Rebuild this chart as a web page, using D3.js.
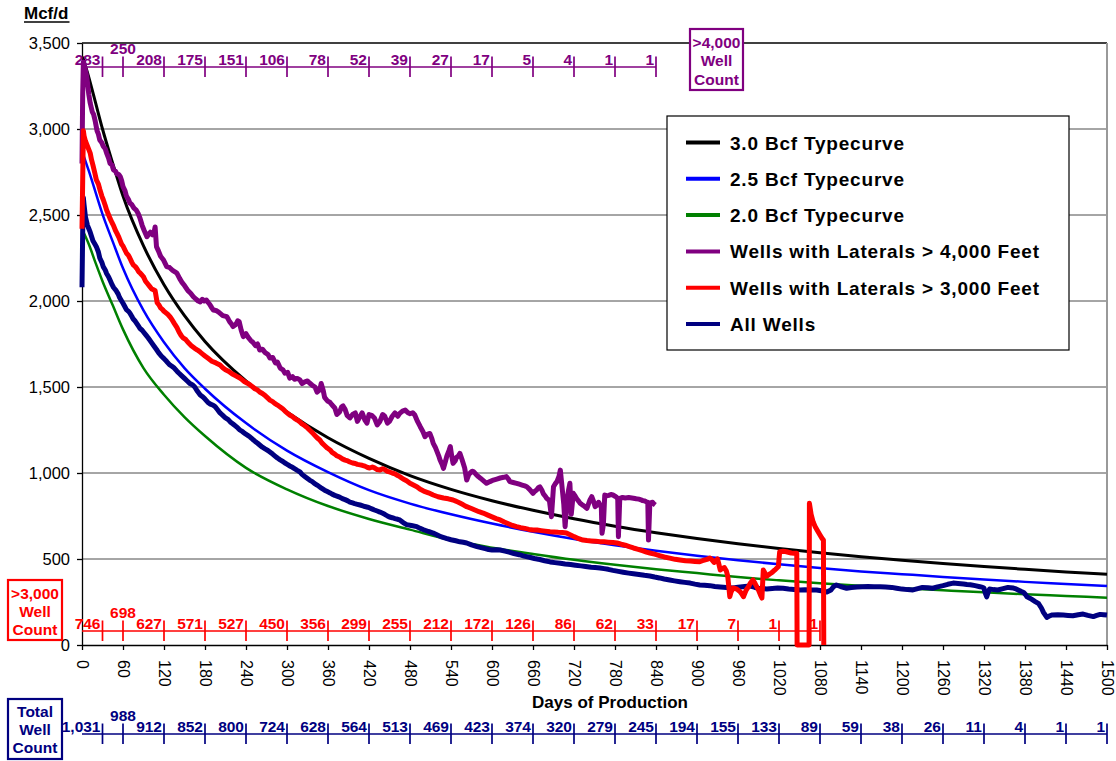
<!DOCTYPE html>
<html><head><meta charset="utf-8">
<script src="https://cdn.jsdelivr.net/npm/d3@7"></script>
<style>
body{margin:0;background:#fff;}
svg text{font-family:"Liberation Sans",Arial,sans-serif;}
</style></head><body>
<svg id="c" width="1116" height="761"></svg>
<script>
// ---------- DATA ----------
const xTickValues = [0,60,120,180,240,300,360,420,480,540,600,660,720,780,840,900,960,1020,1080,1140,1200,1260,1320,1380,1440,1500];
const yTickValues = [0,500,1000,1500,2000,2500,3000,3500];
const gridValues = [500,1000,1500,2000,2500,3000];

const typeDays = [1,10,20,30,45,60,90,120,150,180,240,300,360,420,480,540,600,660,720,780,840,900,960,1020,1080,1140,1200,1260,1320,1380,1440,1500];
const tc30 = [3420,3300,3150,3000,2800,2610,2320,2095,1915,1765,1535,1355,1205,1085,985,905,839,783,734,691,653,619,589,561,536,513,493,474,456,440,425,411];
const tc25 = [2860,2756,2630,2505,2345,2190,1945,1760,1610,1490,1290,1130,1005,900,822,760,706,658,616,580,548,519,493,469,448,428,412,396,381,367,355,343];
const tc20 = [2410,2330,2220,2115,1975,1835,1610,1455,1325,1215,1030,905,808,733,671,610,566,529,495,466,441,418,395,376,359,344,330,318,306,295,285,275];

const wells4000 = [[0,2800],[1,3200],[2,3390],[4,3360],[7,3304],[10,3200],[12,3151],[15,3100],[17,3085],[19,3052],[22,2990],[24,2970],[26,2936],[29,2920],[31,2900],[34,2885],[36,2860],[39,2830],[41,2800],[44,2790],[46,2762],[49,2755],[51,2740],[54,2735],[56,2723],[58,2700],[60,2665],[63,2640],[65,2610],[68,2590],[70,2570],[73,2560],[76,2540],[79,2530],[82,2510],[85,2480],[88,2440],[91,2410],[95,2374],[98,2390],[100,2400],[103,2385],[105,2390],[107,2430],[109,2316],[112,2290],[115,2260],[119,2240],[124,2200],[128,2195],[132,2180],[136,2170],[139,2161],[143,2130],[146,2110],[150,2090],[155,2060],[159,2045],[163,2025],[167,2010],[170,2000],[173,1995],[176,2010],[179,2000],[182,2006],[185,1990],[187,1980],[190,1960],[192,1948],[196,1945],[200,1935],[203,1925],[206,1915],[209,1912],[212,1909],[214,1895],[216,1880],[219,1865],[221,1851],[224,1860],[226,1870],[228,1885],[230,1880],[233,1830],[236,1793],[240,1810],[243,1790],[247,1770],[250,1760],[254,1740],[257,1750],[260,1715],[264,1720],[268,1700],[272,1690],[275,1669],[279,1672],[283,1640],[286,1645],[290,1610],[294,1600],[297,1580],[301,1585],[304,1552],[308,1560],[311,1545],[315,1550],[319,1541],[322,1520],[326,1530],[330,1535],[333,1523],[337,1510],[341,1500],[344,1470],[348,1483],[350,1520],[353,1480],[355,1440],[359,1420],[363,1410],[366,1395],[370,1378],[373,1340],[377,1355],[380,1385],[382,1390],[385,1370],[388,1335],[392,1320],[396,1340],[400,1349],[403,1300],[407,1330],[410,1350],[414,1308],[417,1290],[420,1340],[424,1335],[428,1320],[432,1280],[436,1300],[440,1340],[443,1330],[447,1290],[450,1300],[454,1330],[458,1349],[462,1330],[465,1347],[469,1360],[473,1366],[477,1350],[480,1345],[484,1350],[487,1337],[491,1300],[495,1269],[499,1240],[502,1211],[505,1225],[509,1230],[512,1200],[514,1172],[517,1150],[519,1130],[522,1100],[524,1076],[527,1050],[529,1027],[532,1070],[534,1100],[537,1130],[539,1153],[541,1100],[543,1056],[546,1070],[548,1090],[551,1100],[553,1114],[556,1080],[560,1029],[563,959],[566,990],[568,1000],[571,1010],[573,1008],[577,990],[580,979],[583,970],[586,960],[589,950],[592,940],[597,950],[602,959],[607,965],[612,971],[617,975],[621,979],[624,965],[626,950],[631,945],[636,940],[640,935],[644,930],[648,925],[651,920],[655,905],[660,882],[663,895],[665,900],[668,915],[670,920],[673,900],[675,880],[678,865],[680,853],[684,840],[687,746],[690,920],[693,940],[695,950],[698,980],[700,1017],[703,900],[705,820],[707,688],[710,850],[712,900],[714,940],[716,760],[719,882],[721,870],[724,850],[727,835],[729,824],[732,815],[734,810],[737,800],[739,795],[743,840],[746,862],[749,830],[751,804],[754,815],[756,830],[758,815],[760,800],[761,649],[763,700],[765,872],[768,868],[771,870],[774,875],[777,872],[780,865],[782,860],[784,850],[785,630],[787,853],[791,858],[795,855],[800,857],[807,853],[811,850],[815,848],[818,844],[820,840],[823,838],[826,833],[828,830],[829,610],[831,824],[833,828],[835,830],[837,820],[839,814]];

const wells3000 = [[0,2420],[1,2700],[2,2990],[3,2960],[5,2930],[8,2900],[10,2880],[12,2860],[14,2820],[16,2790],[19,2740],[21,2704],[24,2680],[26,2650],[29,2610],[31,2590],[34,2555],[36,2529],[39,2500],[41,2480],[44,2455],[46,2440],[49,2410],[51,2395],[54,2370],[56,2350],[58,2330],[60,2320],[63,2295],[65,2279],[68,2265],[70,2250],[73,2225],[75,2210],[78,2200],[80,2190],[83,2170],[85,2163],[88,2150],[90,2140],[93,2115],[96,2100],[99,2085],[102,2070],[105,2065],[107,2060],[110,1990],[113,1975],[115,1960],[118,1950],[120,1940],[125,1925],[129,1907],[132,1890],[135,1870],[139,1845],[142,1820],[145,1800],[148,1785],[152,1775],[155,1760],[160,1740],[165,1725],[169,1715],[173,1703],[177,1690],[180,1680],[185,1665],[190,1650],[196,1640],[202,1628],[206,1612],[210,1600],[215,1590],[220,1575],[225,1565],[231,1552],[235,1540],[238,1530],[242,1522],[246,1512],[250,1500],[253,1490],[257,1482],[260,1471],[264,1462],[268,1450],[272,1435],[275,1424],[279,1415],[282,1405],[286,1395],[290,1384],[294,1372],[297,1360],[300,1350],[304,1337],[308,1328],[311,1318],[315,1308],[319,1297],[322,1285],[326,1275],[330,1262],[333,1250],[337,1235],[340,1222],[344,1205],[348,1192],[351,1175],[355,1160],[359,1145],[363,1134],[366,1120],[370,1110],[373,1100],[377,1093],[381,1082],[385,1075],[389,1070],[392,1064],[396,1058],[400,1055],[403,1050],[407,1047],[410,1045],[414,1040],[418,1032],[421,1029],[425,1035],[428,1030],[432,1020],[436,1017],[440,1025],[443,1020],[447,1010],[450,1006],[454,1000],[458,995],[462,985],[465,979],[470,965],[475,955],[480,940],[485,930],[490,920],[495,905],[500,895],[507,885],[514,872],[521,862],[529,855],[536,850],[543,843],[548,835],[553,825],[558,815],[563,804],[569,795],[575,785],[581,775],[587,767],[594,755],[600,745],[606,735],[612,727],[618,715],[624,705],[630,695],[636,688],[642,682],[648,678],[654,672],[660,669],[666,668],[672,665],[678,662],[685,659],[691,657],[697,655],[703,654],[709,651],[715,640],[720,630],[727,618],[733,610],[739,607],[745,605],[752,603],[758,601],[764,600],[770,598],[777,596],[783,593],[789,586],[795,580],[801,572],[807,564],[814,556],[820,548],[826,540],[831,535],[838,528],[845,520],[852,512],[860,505],[868,498],[875,494],[883,490],[890,488],[897,486],[904,484],[908,490],[912,495],[916,500],[919,506],[922,495],[925,480],[928,492],[930,500],[932,470],[934,436],[937,445],[940,450],[943,430],[945,400],[948,281],[950,310],[953,331],[957,328],[960,320],[963,310],[965,300],[968,281],[970,300],[972,320],[975,337],[978,360],[982,378],[984,365],[986,350],[988,335],[990,320],[993,290],[995,273],[997,436],[1000,415],[1002,400],[1006,412],[1009,419],[1012,430],[1015,440],[1017,448],[1019,455],[1021,542],[1026,545],[1031,542],[1035,538],[1038,535],[1042,534],[1046,533],[1046.5,0],[1064,0],[1064.5,824],[1067,760],[1070,715],[1073,688],[1077,660],[1080,640],[1083,620],[1085,610],[1085.5,0]];

const allWells = [[0,2080],[1,2400],[2,2600],[3,2560],[5,2490],[8,2440],[10,2420],[12,2400],[14,2375],[16,2350],[19,2330],[21,2316],[24,2285],[26,2250],[29,2225],[31,2200],[34,2180],[36,2160],[39,2140],[41,2122],[44,2095],[46,2080],[48,2070],[50,2060],[53,2040],[55,2020],[58,2000],[60,1987],[63,1965],[65,1950],[68,1940],[70,1930],[73,1910],[75,1895],[78,1882],[80,1870],[83,1852],[85,1840],[88,1830],[90,1820],[94,1800],[97,1785],[101,1762],[105,1740],[109,1718],[112,1700],[116,1680],[120,1665],[124,1648],[128,1630],[131,1622],[135,1610],[139,1592],[142,1580],[146,1565],[150,1550],[154,1535],[158,1520],[162,1512],[165,1500],[169,1475],[173,1454],[177,1442],[180,1430],[184,1412],[188,1400],[192,1394],[195,1385],[199,1365],[202,1349],[206,1335],[210,1320],[214,1310],[217,1297],[221,1285],[224,1275],[228,1262],[231,1250],[235,1240],[238,1230],[242,1220],[246,1209],[250,1195],[253,1185],[257,1173],[260,1163],[264,1150],[268,1140],[272,1131],[275,1122],[279,1110],[282,1100],[286,1087],[290,1076],[294,1067],[297,1058],[301,1049],[304,1041],[308,1033],[311,1025],[315,1015],[319,1006],[322,992],[326,980],[330,968],[333,959],[337,950],[340,940],[344,930],[348,919],[351,910],[355,900],[359,892],[363,884],[366,877],[370,870],[373,866],[377,860],[381,851],[385,845],[389,838],[392,831],[396,826],[399,822],[403,818],[407,814],[411,809],[414,805],[418,801],[421,797],[425,790],[428,785],[432,779],[436,773],[440,766],[443,760],[447,750],[450,744],[454,740],[458,735],[462,731],[465,727],[470,712],[475,700],[482,695],[490,688],[495,678],[500,670],[507,660],[514,651],[520,640],[525,630],[533,620],[540,612],[547,606],[553,600],[558,597],[563,593],[570,582],[578,572],[584,566],[590,560],[595,555],[600,552],[606,554],[612,552],[619,546],[625,540],[632,532],[640,525],[647,517],[655,510],[662,503],[670,497],[677,490],[685,483],[692,479],[700,475],[707,471],[715,468],[722,464],[730,460],[737,456],[745,452],[751,450],[758,448],[764,444],[770,440],[777,434],[785,428],[792,423],[800,418],[807,414],[815,410],[823,405],[831,401],[838,395],[845,390],[852,384],[860,378],[867,373],[875,368],[882,364],[890,360],[897,354],[904,349],[911,347],[919,345],[926,340],[934,337],[943,334],[953,331],[960,336],[970,340],[978,343],[984,336],[990,330],[996,328],[1002,326],[1010,329],[1018,331],[1026,330],[1034,326],[1042,323],[1051,320],[1058,321],[1066,320],[1075,320],[1082,315],[1090,308],[1096,320],[1100,340],[1104,349],[1110,340],[1119,330],[1126,334],[1134,337],[1142,339],[1150,340],[1159,339],[1168,339],[1176,337],[1185,335],[1192,330],[1200,325],[1208,322],[1216,320],[1223,328],[1230,335],[1238,333],[1245,330],[1252,338],[1260,345],[1267,353],[1275,360],[1282,358],[1290,355],[1295,352],[1300,350],[1307,345],[1314,339],[1318,335],[1320,330],[1322,300],[1324,280],[1326,305],[1328,325],[1334,322],[1340,320],[1348,328],[1355,335],[1359,333],[1363,331],[1367,326],[1370,320],[1374,312],[1378,305],[1381,292],[1383,280],[1387,272],[1390,265],[1395,252],[1400,240],[1404,215],[1407,190],[1410,172],[1412,160],[1416,170],[1420,175],[1428,176],[1436,174],[1443,172],[1450,170],[1458,176],[1465,180],[1472,172],[1480,165],[1485,172],[1490,178],[1495,176],[1500,174]];

const count4000 = [283,250,208,175,151,106,78,52,39,27,17,5,4,1,1];
const count3000 = [746,698,627,571,527,450,356,299,255,212,172,126,86,62,33,17,7,1,1];
const countAll = [1031,988,912,852,800,724,628,564,513,469,423,374,320,279,245,194,155,133,89,59,38,26,11,4,1,1];

const legendItems = [
  {label:"3.0 Bcf Typecurve", color:"#000000"},
  {label:"2.5 Bcf Typecurve", color:"#0000FF"},
  {label:"2.0 Bcf Typecurve", color:"#008000"},
  {label:"Wells with Laterals > 4,000 Feet", color:"#800080"},
  {label:"Wells with Laterals > 3,000 Feet", color:"#FF0000"},
  {label:"All Wells", color:"#000080"}
];

// ---------- CHART ----------
const FONT = "'Liberation Sans', Arial, sans-serif";
const svg = d3.select("#c").style("font-family", FONT);
const x = d3.scaleLinear().domain([0,1500]).range([82,1107]);
const y = d3.scaleLinear().domain([0,3500]).range([645,43]);
const fmt = d3.format(",");

// gridlines
svg.append("g").selectAll("line").data(gridValues).join("line")
  .attr("x1", x(0)).attr("x2", x(1500))
  .attr("y1", d=>y(d)).attr("y2", d=>y(d))
  .attr("stroke", "#4d4d4d").attr("stroke-width", 1);
// top border
svg.append("line").attr("x1", x(0)).attr("x2", x(1500)).attr("y1", y(3500)).attr("y2", y(3500))
  .attr("stroke", "#000").attr("stroke-width", 1.3);
// right border
svg.append("line").attr("x1", x(1500)).attr("x2", x(1500)).attr("y1", y(3500)).attr("y2", y(0))
  .attr("stroke", "#999").attr("stroke-width", 2);

// y axis
const yAx = svg.append("g").attr("transform", `translate(${x(0)},0)`)
  .call(d3.axisLeft(y).tickValues(yTickValues).tickFormat(fmt).tickSize(5).tickSizeOuter(0).tickPadding(7));
yAx.attr("font-family", null);
yAx.selectAll("text").attr("font-size", 16.5).attr("fill", "#000").style("font-family", FONT);
yAx.selectAll("line,path").attr("stroke", "#000").attr("stroke-width", 1.3);

// x axis
const xAx = svg.append("g").attr("transform", `translate(0,${y(0)})`)
  .call(d3.axisBottom(x).tickValues(xTickValues).tickFormat(d=>String(d)).tickSize(5).tickSizeOuter(0));
xAx.attr("font-family", null);
xAx.selectAll("line,path").attr("stroke", "#000").attr("stroke-width", 1.3);
xAx.selectAll("text")
  .attr("font-size", 16).attr("fill", "#000").style("font-family", FONT)
  .attr("transform", "rotate(90)").attr("x", 15).attr("y", 0).attr("dy", "0.35em")
  .attr("text-anchor", "start");

// series
const lineTC = d3.line().x((d,i)=>x(typeDays[i])).y(d=>y(d)).curve(d3.curveMonotoneX);
const linePts = d3.line().x(d=>x(d[0])).y(d=>y(d[1]));

svg.append("path").datum(tc30).attr("d", lineTC).attr("fill","none").attr("stroke","#000000").attr("stroke-width",3);
svg.append("path").datum(tc25).attr("d", lineTC).attr("fill","none").attr("stroke","#0000FF").attr("stroke-width",2.5);
svg.append("path").datum(tc20).attr("d", lineTC).attr("fill","none").attr("stroke","#008000").attr("stroke-width",2.5);
svg.append("path").datum(wells4000).attr("d", linePts).attr("fill","none").attr("stroke","#800080").attr("stroke-width",5).attr("stroke-linejoin","round");
svg.append("path").datum(allWells).attr("d", linePts).attr("fill","none").attr("stroke","#000080").attr("stroke-width",5).attr("stroke-linejoin","round");
svg.append("path").datum(wells3000).attr("d", linePts).attr("fill","none").attr("stroke","#FF0000").attr("stroke-width",5).attr("stroke-linejoin","round");

// count rows
function countRow(counts, color, yLine, endDay){
  const g = svg.append("g");
  g.append("line").attr("x1", x(0)).attr("x2", x(endDay)).attr("y1", yLine).attr("y2", yLine)
    .attr("stroke", color).attr("stroke-width", 1.7);
  counts.forEach((c,i)=>{
    const d = i===0 ? 30 : i*60;
    g.append("line").attr("x1", x(d)).attr("x2", x(d)).attr("y1", yLine-10.5).attr("y2", yLine+10)
      .attr("stroke", color).attr("stroke-width", 1.7);
    const t = g.append("text").text(fmt(c)).attr("fill", color)
      .attr("font-size", 15.5).attr("font-weight", "bold");
    if(i===1){
      t.attr("x", x(d)).attr("y", yLine-13).attr("text-anchor","middle");
    } else {
      t.attr("x", x(d)-2).attr("y", yLine-2.5).attr("text-anchor","end");
    }
  });
}
countRow(count4000, "#800080", 67, 840);
countRow(count3000, "#FF0000", 631, 1080);
countRow(countAll, "#000080", 734, 1500);

// boxes
function labelBox(lines, color, bx, by, bw, bh, baselines){
  svg.append("rect").attr("x", bx).attr("y", by).attr("width", bw).attr("height", bh)
    .attr("fill", "#fff").attr("stroke", color).attr("stroke-width", 2.2);
  lines.forEach((l,i)=>{
    svg.append("text").text(l).attr("x", bx+bw/2).attr("y", baselines[i])
      .attr("text-anchor","middle").attr("fill", color).attr("font-size", 15.5).attr("font-weight","bold");
  });
}
labelBox([">4,000","Well","Count"], "#800080", 690, 29, 53, 61, [48, 66, 84.5]);
labelBox([">3,000","Well","Count"], "#FF0000", 8, 580, 54, 60, [598.5, 617, 635]);
labelBox(["Total","Well","Count"], "#000080", 8, 699, 54, 60, [716.5, 735, 753]);

// titles
svg.append("text").text("Mcf/d").attr("x", 24).attr("y", 19).attr("font-size", 17).attr("font-weight","bold").attr("fill","#000");
svg.append("line").attr("x1", 24).attr("x2", 69.5).attr("y1", 22).attr("y2", 22).attr("stroke","#000").attr("stroke-width",1.5);
svg.append("text").text("Days of Production").attr("x", 610).attr("y", 708).attr("text-anchor","middle")
  .attr("font-size", 17).attr("font-weight","bold").attr("fill","#000");

// legend
const lg = svg.append("g");
lg.append("rect").attr("x", 667).attr("y", 116).attr("width", 402).attr("height", 234)
  .attr("fill","#fff").attr("stroke","#000").attr("stroke-width",1.2);
legendItems.forEach((it,i)=>{
  const cy = 142.5 + i*36.3;
  lg.append("line").attr("x1", 686).attr("x2", 720).attr("y1", cy).attr("y2", cy)
    .attr("stroke", it.color).attr("stroke-width", 4);
  lg.append("text").text(it.label).attr("x", 730).attr("y", cy+7)
    .attr("font-size", 19).attr("font-weight","bold").attr("fill","#000").attr("letter-spacing", "0.8px");
});
</script>
</body></html>
